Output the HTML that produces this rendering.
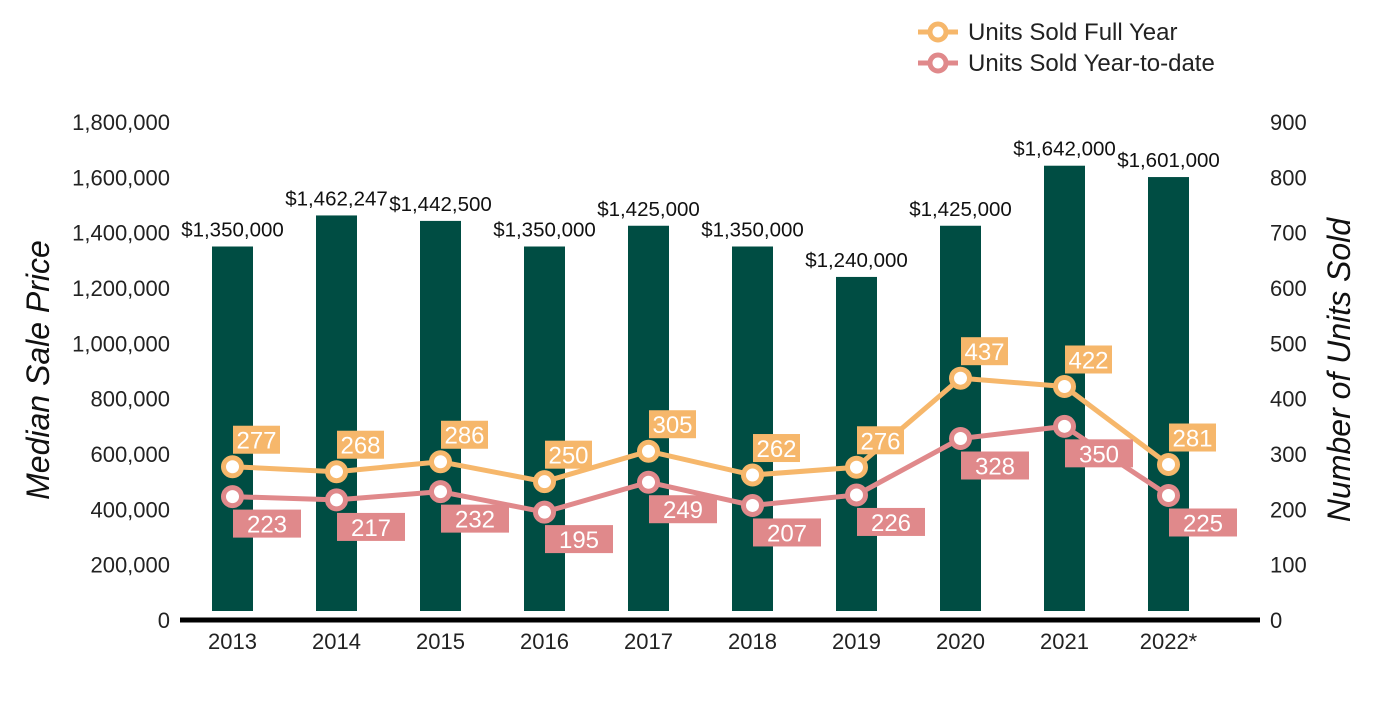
<!DOCTYPE html>
<html><head><meta charset="utf-8"><style>
body{margin:0;background:#fff;width:1400px;height:700px;overflow:hidden}
svg{font-family:"Liberation Sans",Arial,sans-serif}
</style></head><body>
<svg id="c" width="1400" height="700"></svg>
<script>
const categories=["2013","2014","2015","2016","2017","2018","2019","2020","2021","2022*"];
const prices=[1350000,1462247,1442500,1350000,1425000,1350000,1240000,1425000,1642000,1601000];
const priceLabels=["$1,350,000","$1,462,247","$1,442,500","$1,350,000","$1,425,000","$1,350,000","$1,240,000","$1,425,000","$1,642,000","$1,601,000"];
const fullYear=[277,268,286,250,305,262,276,437,422,281];
const ytd=[223,217,232,195,249,207,226,328,350,225];
const leftTicks=[0,200000,400000,600000,800000,1000000,1200000,1400000,1600000,1800000];
const rightTicks=[0,100,200,300,400,500,600,700,800,900];

const NS="http://www.w3.org/2000/svg";
const svg=document.getElementById('c');
function el(t,a,txt){const e=document.createElementNS(NS,t);for(const k in a)e.setAttribute(k,a[k]);if(txt!==undefined)e.textContent=txt;svg.appendChild(e);return e;}
const y0=620,yTop=122;
const yL=v=>y0-v/1800000*(y0-yTop);
const yR=v=>y0-v/900*(y0-yTop);
const xC=i=>232.5+i*104;
const fmt=v=>v.toLocaleString('en-US');

leftTicks.forEach(v=>{const t=el('text',{x:170,y:yL(v)+8,'text-anchor':'end','font-size':22,fill:'#222'},fmt(v));
});
rightTicks.forEach(v=>{const t=el('text',{x:1270,y:yR(v)+8,'font-size':22,fill:'#222'},String(v));
});

let t=el('text',{transform:'translate(49,370) rotate(-90)','text-anchor':'middle','font-size':32,'font-style':'italic',fill:'#111'},'Median Sale Price');

t=el('text',{transform:'translate(1350,370) rotate(-90)','text-anchor':'middle','font-size':32,'font-style':'italic',fill:'#111'},'Number of Units Sold');


prices.forEach((v,i)=>{
  const r=el('rect',{x:xC(i)-20.5,y:yL(v),width:41,height:611-yL(v),fill:'#004d43'});
  
  const l=el('text',{x:xC(i),y:yL(v)-10,'text-anchor':'middle','font-size':20.5,fill:'#111'},priceLabels[i]);
  
});
const ax=el('line',{x1:180,x2:1260,y1:620,y2:620,stroke:'#000','stroke-width':5});

categories.forEach((c,i)=>{const l=el('text',{x:xC(i),y:649,'text-anchor':'middle','font-size':22,fill:'#222'},c);
});

function series(data,color,name,above,bw){
  const p=el('polyline',{points:data.map((v,i)=>xC(i)+','+yR(v)).join(' '),fill:'none',stroke:color,'stroke-width':5});
  
  data.forEach((v,i)=>{
    const c=el('circle',{cx:xC(i),cy:yR(v),r:9,fill:'#fff',stroke:color,'stroke-width':5});
    
  });
  data.forEach((v,i)=>{
    const by=above?yR(v)-41:yR(v)+13;
    const r=el('rect',{x:xC(i)+0.5,y:by,width:bw,height:28,fill:color});
    
    const l=el('text',{x:xC(i)+0.5+bw/2,y:by+23,'text-anchor':'middle','font-size':24,fill:'#fff'},String(v));
    
  });
}
series(fullYear,'#f6b76b','full-year',true,47);
series(ytd,'#e0898b','ytd',false,68);

[['Units Sold Full Year','#f6b76b',32],['Units Sold Year-to-date','#e0898b',63]].forEach(([txt,col,y])=>{
  const g1=el('line',{x1:918,x2:958,y1:y,y2:y,stroke:col,'stroke-width':5});
  
  const g2=el('circle',{cx:938,cy:y,r:8,fill:'#fff',stroke:col,'stroke-width':5});
  
  const l=el('text',{x:968,y:y+8,'font-size':24,fill:'#222'},txt);
  
});
</script>
</body></html>
